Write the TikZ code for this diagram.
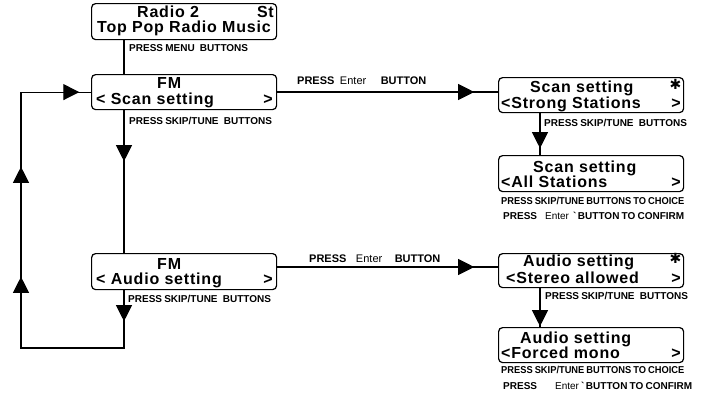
\documentclass[tikz,border=0pt]{standalone}
\usepackage{fontspec}
\setmainfont{Liberation Sans}
\newfontfamily\lcdfont[LetterSpace=5]{Liberation Sans}
\newfontfamily\smallfont[WordSpace=0.8]{Liberation Sans}
\newfontfamily\choicefont[WordSpace=0.8,FakeStretch=0.93]{Liberation Sans}
\newfontfamily\symfont{DejaVu Sans}
\usetikzlibrary{arrows.meta,decorations.markings}
\tikzset{
  lcd/.style={draw, rounded corners=4pt, line width=1.2pt, minimum width=185pt, anchor=north west, inner sep=0pt},
  big/.style={font=\lcdfont\fontsize{16}{16}\selectfont\bfseries, inner sep=0pt, text height=10pt, text depth=0.5pt},
  star/.style={font=\symfont\fontsize{14}{14}\selectfont, inner sep=0pt, text height=8pt, text depth=0pt, anchor=base east},
  small/.style={font=\smallfont\fontsize{10}{10}\selectfont\bfseries, inner sep=0pt, anchor=base west, text height=7pt, text depth=0pt},
  enterlbl/.style={small, font=\smallfont\fontsize{11}{11}\selectfont\bfseries},
  choice/.style={small, font=\choicefont\fontsize{10}{10}\selectfont\bfseries},
  conn/.style={line width=1.1pt},
  tiphere/.style={postaction={decorate, decoration={markings, mark=at position #1 with {\arrow{Triangle[length=16pt,width=16pt]}}}}},
}
\begin{document}
\begin{tikzpicture}[x=1pt,y=-1pt]
\useasboundingbox (0,0) rectangle (705,392);
% helper coordinates
\coordinate (cx) at (124,0);
\coordinate (lx) at (21,0);
\coordinate (rx) at (540,0);
\coordinate (yscan) at (0,92);
\coordinate (yaud) at (0,267);
\coordinate (ybot) at (0,348);
% boxes
\node[lcd, minimum height=36pt] (radio) at (91,3) {};
\node[lcd, minimum height=35pt] (fmscan) at (91,74) {};
\node[lcd, minimum height=36pt] (fmaudio) at (91,253) {};
\node[lcd, minimum height=35pt] (strong) at (498,77) {};
\node[lcd, minimum height=36pt] (allst) at (498,155) {};
\node[lcd, minimum height=34pt] (stereo) at (498,253) {};
\node[lcd, minimum height=35pt] (mono) at (498,327) {};
% box texts
\node[big, anchor=base west] (r1) at (137,17.5) {Radio 2};
\node[big, anchor=base east] (r2) at (274,17.5) {St};
\node[big, anchor=base west] (r3) at (97,32.5) {Top Pop Radio Music};
\node[big, anchor=base west] (f1) at (157,88) {FM};
\node[big, anchor=base west] (f2) at (96,104) {< Scan setting};
\node[big, anchor=base east] (f3) at (273,104) {>};
\node[big, anchor=base west] (a1) at (157,269) {FM};
\node[big, anchor=base west] (a2) at (96,284) {< Audio setting};
\node[big, anchor=base east] (a3) at (273,284) {>};
\node[big, anchor=base west] (s1) at (530,92) {Scan setting};
\node[star] (s2) at (681.5,89.5) {✱};
\node[big, anchor=base west] (s3) at (501,108) {<Strong Stations};
\node[big, anchor=base east] (s4) at (681,108) {>};
\node[big, anchor=base west] (l1) at (533,172) {Scan setting};
\node[big, anchor=base west] (l2) at (501,187) {<All Stations};
\node[big, anchor=base east] (l3) at (681,187) {>};
\node[big, anchor=base west] (o1) at (523,266) {Audio setting};
\node[star] (o2) at (681.5,263.5) {✱};
\node[big, anchor=base west] (o3) at (506,283) {<Stereo allowed};
\node[big, anchor=base east] (o4) at (681,283) {>};
\node[big, anchor=base west] (m1) at (520,343) {Audio setting};
\node[big, anchor=base west] (m2) at (501,358) {<Forced mono};
\node[big, anchor=base east] (m3) at (681,358) {>};
% small labels
\node[small] (p1) at (129,51) {PRESS MENU\hspace{3pt} BUTTONS};
\node[small] (p2) at (129,124) {PRESS SKIP/TUNE\hspace{3pt} BUTTONS};
\node[small] (p3) at (128,302) {PRESS SKIP/TUNE\hspace{3pt} BUTTONS};
\node[enterlbl] (p4) at (297,84) {PRESS\hspace{5.5pt}{\mdseries Enter}\hspace{14.5pt}BUTTON};
\node[enterlbl] (p5) at (309,262) {PRESS\hspace{9.5pt}{\mdseries Enter}\hspace{12.5pt}BUTTON};
\node[small] (p6) at (544,126) {PRESS SKIP/TUNE\hspace{3pt} BUTTONS};
\node[small] (p7) at (545,299) {PRESS SKIP/TUNE\hspace{3pt} BUTTONS};
\node[choice] (p8) at (501,204) {PRESS SKIP/TUNE BUTTONS TO CHOICE};
\node[small] (p9) at (503,219) {PRESS\hspace{8pt}{\mdseries Enter}\hspace{4pt}`\,BUTTON TO CONFIRM};
\node[choice] (p10) at (501,373) {PRESS SKIP/TUNE BUTTONS TO CHOICE};
\node[small] (p11) at (503,389) {PRESS\hspace{18pt}{\mdseries Enter}\hspace{2pt}`\,BUTTON TO CONFIRM};
% connectors
\draw[conn] (radio.south -| cx) -- (fmscan.north -| cx);
\draw[conn, tiphere=51pt] (fmscan.south -| cx) -- (fmaudio.north -| cx);
\draw[conn, tiphere=197pt] (fmscan.east |- yscan) -- (strong.west |- yscan);
\draw[conn, tiphere=197pt] (fmaudio.east |- yaud) -- (stereo.west |- yaud);
\draw[conn, tiphere=35pt] (strong.south -| rx) -- (allst.north -| rx);
\draw[conn, tiphere=38pt] (stereo.south -| rx) -- (mono.north -| rx);
\draw[conn, postaction={decorate, decoration={markings,
    mark=at position 31pt with {\arrow{Triangle[length=16pt,width=16pt]}},
    mark=at position 232pt with {\arrow{Triangle[length=16pt,width=16pt]}},
    mark=at position 342pt with {\arrow{Triangle[length=16pt,width=16pt]}},
    mark=at position 475pt with {\arrow{Triangle[length=16pt,width=16pt]}}}}]
  (fmaudio.south -| cx) -- (ybot -| cx) -- (ybot -| lx) -- (fmscan.west -| lx) -- (fmscan.west);
\end{tikzpicture}
\end{document}
